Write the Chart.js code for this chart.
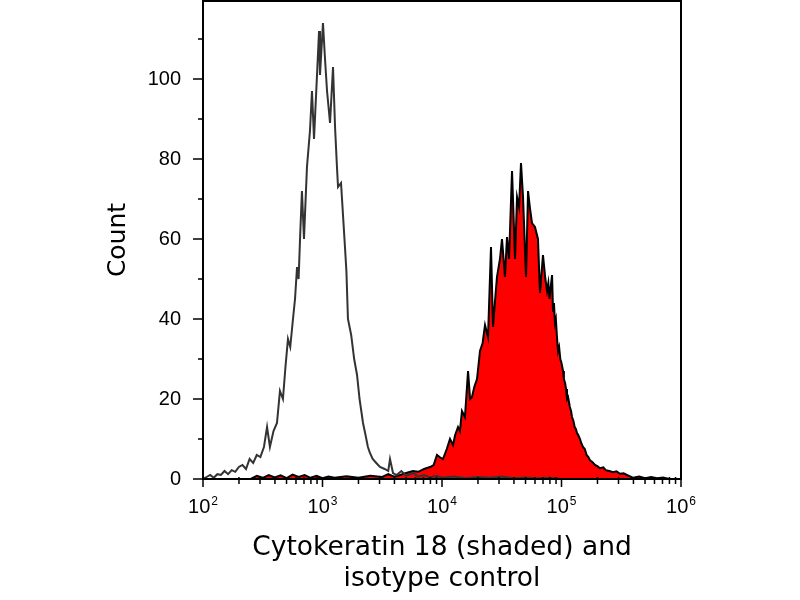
<!DOCTYPE html>
<html>
<head>
<meta charset="utf-8">
<title>Cytokeratin 18 histogram</title>
<script src="https://cdn.jsdelivr.net/npm/chart.js@4"></script>
<style>
  html, body { margin: 0; padding: 0; background: #ffffff; }
  #wrap { width: 800px; height: 600px; }
</style>
</head>
<body>
<div id="wrap"><canvas id="chart" width="800" height="600"></canvas></div>
<script>
const TITLE_FONT = "'DejaVu Sans', Verdana, sans-serif";
const TICK_FONT = "'Liberation Sans', Arial, sans-serif";

// isotype control (open grey curve): log10 intensity and count
const isoLogX = [
  2.00, 2.03, 2.06, 2.09, 2.12, 2.15, 2.18, 2.21, 2.24, 2.27, 2.30, 2.33, 2.36, 2.39, 2.42,
  2.45, 2.48, 2.51, 2.536, 2.56, 2.59, 2.619, 2.644, 2.669, 2.69, 2.711, 2.73, 2.753, 2.77,
  2.787, 2.80, 2.812, 2.828, 2.845, 2.870, 2.895, 2.912, 2.929, 2.954, 2.971, 2.979, 3.004,
  3.021, 3.038, 3.063, 3.088, 3.105, 3.121, 3.130, 3.155, 3.188, 3.20, 3.213, 3.24, 3.265,
  3.289, 3.31, 3.339, 3.36, 3.38, 3.397, 3.42, 3.45, 3.481, 3.52, 3.55, 3.565, 3.590, 3.62,
  3.66, 3.70, 3.757, 3.80, 3.85, 3.90, 3.95, 4.00, 4.10, 4.20, 4.30, 4.40, 4.50, 4.60, 4.70,
  4.80, 4.90, 5.00
];
const isoCount = [
  0, 0.5, 1, 0.3, 1.2, 1, 2, 1.2, 2.2, 1.8, 3, 3.5, 2.5, 5, 4,
  6, 5.5, 8, 13, 8, 12, 14, 22, 20, 28, 35, 33, 40, 45,
  53, 50, 60, 72, 60, 78, 87, 97, 85, 101, 112, 101, 114,
  105, 97, 89, 103, 88, 78, 73, 74, 58, 52, 40, 36, 30,
  26, 20, 14, 11, 8, 6.5, 5, 4, 3, 2.5, 2, 5, 1.5, 1,
  2, 0.8, 1.5, 0.6, 1, 0.4, 0.8, 0.3, 0.6, 0.2, 0.5, 0.3, 0.6, 0.2, 0.4,
  0.2, 0.3, 0
];

// cytokeratin 18 (red shaded curve)
const ckLogX = [
  2.40, 2.45, 2.50, 2.55, 2.60, 2.65, 2.70, 2.75, 2.80, 2.85, 2.90, 2.95, 3.00, 3.05, 3.10,
  3.20, 3.30, 3.40, 3.50, 3.55, 3.60, 3.649, 3.70, 3.757, 3.80, 3.85, 3.900, 3.93, 3.958,
  3.98, 4.008, 4.04, 4.067, 4.092, 4.11, 4.134, 4.15, 4.167, 4.192, 4.218, 4.235, 4.251,
  4.27, 4.293, 4.318, 4.34, 4.360, 4.385, 4.410, 4.427, 4.445, 4.460, 4.485, 4.502, 4.527,
  4.544, 4.561, 4.586, 4.611, 4.628, 4.645, 4.661, 4.678, 4.703, 4.720, 4.735, 4.753, 4.778,
  4.803, 4.820, 4.845, 4.865, 4.879, 4.89, 4.90, 4.91, 4.921, 4.929, 4.937, 4.945, 4.953,
  4.962, 4.971, 4.98, 4.99, 5.00, 5.013, 5.02, 5.03, 5.038, 5.046, 5.055, 5.07, 5.08, 5.088,
  5.10, 5.11, 5.12, 5.130, 5.14, 5.155, 5.165, 5.180, 5.195, 5.21, 5.225, 5.238, 5.26, 5.28,
  5.30, 5.322, 5.35, 5.37, 5.40, 5.431, 5.46, 5.49, 5.52, 5.548, 5.60, 5.65, 5.70, 5.75,
  5.80, 5.85, 5.90
];
const ckCount = [
  0, 0.8, 0.3, 1, 0.4, 0.9, 0.2, 1.1, 0.5, 1, 0.3, 0.8, 0.2, 0.6, 0.3,
  0.7, 0.3, 0.8, 0.5, 1.2, 0.6, 1, 1.5, 2, 1.8, 2.5, 3, 3.5, 6,
  5.5, 5, 7.5, 10, 8.5, 11, 13, 12, 17, 15.5, 27, 20, 20.5,
  23, 25, 32, 34, 38.5, 35.5, 58, 38, 45, 50.5, 55, 60, 50.5,
  60.5, 55, 77, 55, 70.5, 68, 79, 70.5, 50.5, 72, 68, 64, 63,
  60, 46.5, 56, 50, 47, 49, 45, 48, 51, 42, 44, 39, 40,
  35.5, 32, 33, 30, 29, 27, 25, 24, 22.5, 20, 20.5, 18, 17, 15.5,
  14.5, 13, 12.5, 11.5, 11, 10, 9, 8, 7.5, 6, 5.5, 4.7, 4.2, 3.5,
  3.2, 2.7, 2.9, 2.2, 2, 1.7, 1.9, 1.3, 1.4, 1, 0.3, 0.6, 0.2, 0.5,
  0.2, 0.4, 0
];

const xMajor = [100, 1000, 10000, 100000, 1000000];
const xMajorExp = ["2", "3", "4", "5", "6"];
const xMinorFactors = [2, 3, 4, 5, 6, 7, 8, 9];
const yTicks = [0, 10, 20, 30, 40, 50, 60, 70, 80, 90, 100, 110];
const yLabelEvery = 20;

function toPoints(logX, counts) {
  return logX.map((e, i) => ({ x: Math.pow(10, e), y: counts[i] }));
}

const xTickValues = [];
xMajor.forEach((m, i) => {
  xTickValues.push(m);
  if (i < xMajor.length - 1) xMinorFactors.forEach((f) => xTickValues.push(m * f));
});

// frame, tick marks (major long, minor short) and 10^n labels
const framePlugin = {
  id: "frame",
  afterDraw(chart) {
    const { ctx, chartArea: a, scales } = chart;
    ctx.save();
    ctx.strokeStyle = "#000";
    ctx.lineWidth = 2;
    ctx.strokeRect(a.left, a.top, a.right - a.left, a.bottom - a.top);

    ctx.lineWidth = 1.5;
    ctx.beginPath();
    scales.x.ticks.forEach((t) => {
      const px = scales.x.getPixelForValue(t.value);
      const major = xMajor.includes(t.value);
      ctx.moveTo(px, a.bottom - (major ? 0 : 2));
      ctx.lineTo(px, a.bottom + (major ? 8 : 5));
    });
    scales.y.ticks.forEach((t) => {
      const py = scales.y.getPixelForValue(t.value);
      const major = t.value % yLabelEvery === 0;
      ctx.moveTo(a.left, py);
      ctx.lineTo(a.left - (major ? 10 : 5), py);
    });
    ctx.stroke();

    ctx.fillStyle = "#000";
    ctx.textBaseline = "alphabetic";
    ctx.textAlign = "left";
    xMajor.forEach((v, i) => {
      const px = scales.x.getPixelForValue(v);
      ctx.font = `20px ${TICK_FONT}`;
      const wBase = ctx.measureText("10").width;
      ctx.font = `12px ${TICK_FONT}`;
      const wExp = ctx.measureText(xMajorExp[i]).width;
      const x0 = px - (wBase + wExp + 1) / 2;
      ctx.font = `20px ${TICK_FONT}`;
      ctx.fillText("10", x0, a.bottom + 34);
      ctx.font = `12px ${TICK_FONT}`;
      ctx.fillText(xMajorExp[i], x0 + wBase + 1, a.bottom + 26);
    });
    ctx.restore();
  },
};

new Chart(document.getElementById("chart"), {
  type: "line",
  data: {
    datasets: [
      {
        label: "Isotype control",
        data: toPoints(isoLogX, isoCount),
        borderColor: "#333333",
        borderWidth: 2,
        fill: false,
        pointRadius: 0,
        tension: 0,
        order: 0,
      },
      {
        label: "Cytokeratin 18",
        data: toPoints(ckLogX, ckCount),
        borderColor: "#000000",
        backgroundColor: "#ff0000",
        borderWidth: 2,
        fill: "origin",
        pointRadius: 0,
        tension: 0,
        order: 1,
      },
    ],
  },
  options: {
    responsive: false,
    animation: false,
    layout: { padding: { top: 1, right: 119, left: 0, bottom: 0 } },
    plugins: {
      legend: { display: false },
      tooltip: { enabled: false },
    },
    scales: {
      x: {
        type: "logarithmic",
        min: 100,
        max: 1000000,
        grid: { display: false },
        border: { display: false },
        afterBuildTicks: (scale) => {
          scale.ticks = xTickValues.map((v) => ({ value: v }));
        },
        afterFit: (scale) => {
          scale.height = 121;
          scale.paddingLeft = 0;
          scale.paddingRight = 0;
        },
        ticks: {
          autoSkip: false,
          maxRotation: 0,
          callback: () => "",
        },
        title: {
          display: true,
          text: ["Cytokeratin 18 (shaded) and", "isotype control"],
          color: "#000",
          font: { family: TITLE_FONT, size: 26.5, lineHeight: 1.17 },
          padding: { top: 0, bottom: 5 },
        },
      },
      y: {
        min: 0,
        max: 119.5,
        grid: { display: false },
        border: { display: false },
        afterBuildTicks: (scale) => {
          scale.ticks = yTicks.map((v) => ({ value: v }));
        },
        afterFit: (scale) => {
          scale.width = 203;
          scale.paddingTop = 0;
          scale.paddingBottom = 0;
        },
        ticks: {
          autoSkip: false,
          padding: 14,
          color: "#000",
          font: { family: TICK_FONT, size: 20 },
          callback: (v) => (v % yLabelEvery === 0 ? String(v) : ""),
        },
        title: {
          display: true,
          text: "Count",
          color: "#000",
          font: { family: TITLE_FONT, size: 25, lineHeight: 1.2 },
          padding: { top: 103, bottom: 0 },
        },
      },
    },
  },
  plugins: [framePlugin],
});
</script>
</body>
</html>
